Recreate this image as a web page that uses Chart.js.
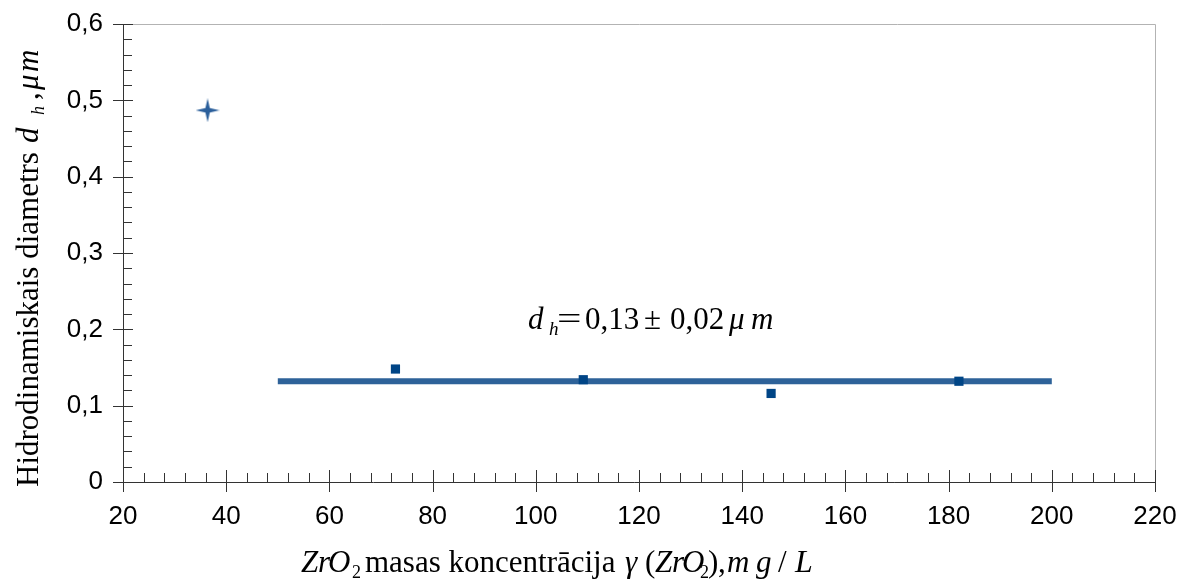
<!DOCTYPE html>
<html><head><meta charset="utf-8">
<script src="https://cdn.jsdelivr.net/npm/chart.js@4/dist/chart.umd.min.js"></script>
<style>html,body{margin:0;padding:0;background:#fff;}canvas{display:block;}</style>
</head><body>
<canvas id="c" width="1179" height="582"></canvas>
<script>
// Data
const firstX = [36.4];
const firstY = [0.487];
const seriesX = [72.8, 109.2, 145.6, 182.0];
const seriesY = [0.148, 0.134, 0.116, 0.132];
const meanLineX = [50, 200];
const meanLineY = [0.132, 0.132];
const xTicks = [20, 40, 60, 80, 100, 120, 140, 160, 180, 200, 220];
const yTicks = [0, 0.1, 0.2, 0.3, 0.4, 0.5, 0.6];

const SERIF = '"Liberation Serif", "DejaVu Serif", serif';
const SANS = '"Liberation Sans", Arial, sans-serif';

// 4-pointed star marker
function makeStar(size, color) {
  const c = document.createElement('canvas');
  c.width = size; c.height = size;
  const g = c.getContext('2d');
  const r = size / 2, ri = size * 0.13;
  g.fillStyle = color;
  g.beginPath();
  for (let i = 0; i < 8; i++) {
    const a = -Math.PI / 2 + i * Math.PI / 4;
    const rr = i % 2 === 0 ? r : ri;
    const px = r + rr * Math.cos(a), py = r + rr * Math.sin(a);
    i === 0 ? g.moveTo(px, py) : g.lineTo(px, py);
  }
  g.closePath(); g.fill();
  return c;
}
const star = makeStar(24, '#2b5f9b');

// segments positioned at offsets ("at") from the origin along the baseline
function drawRich(ctx, segs, x, y) {
  for (const s of segs) {
    ctx.save();
    ctx.font = s.font;
    ctx.translate(x + s.at, y + (s.dy || 0));
    if (s.sx) ctx.scale(s.sx, 1);
    ctx.fillText(s.t, 0, 0);
    ctx.restore();
  }
}
const it = (px) => 'italic ' + px + 'px ' + SERIF;
const up = (px) => px + 'px ' + SERIF;

const decor = {
  id: 'decor',
  beforeDatasetsDraw(chart) {
    const ctx = chart.ctx, xs = chart.scales.x, ys = chart.scales.y;
    const L = xs.left, R = xs.right, T = ys.top, B = ys.bottom;
    ctx.save();
    ctx.strokeStyle = '#b3b3b3'; ctx.lineWidth = 1;
    ctx.beginPath();
    ctx.moveTo(L, T + 0.5); ctx.lineTo(R + 0.5, T + 0.5); ctx.lineTo(R + 0.5, B);
    ctx.stroke();
    ctx.strokeStyle = '#333'; ctx.lineWidth = 1;
    ctx.beginPath();
    ctx.moveTo(L + 0.5, T); ctx.lineTo(L + 0.5, B + 10);
    ctx.moveTo(L - 10, B + 0.5); ctx.lineTo(R + 0.5, B + 0.5);
    for (let v = 20; v <= 220; v += 4) {
      const p = Math.round(xs.getPixelForValue(v)) + 0.5;
      if (v % 20 === 0) { ctx.moveTo(p, B - 12); ctx.lineTo(p, B + 10); }
      else { ctx.moveTo(p, B - 9); ctx.lineTo(p, B); }
    }
    for (let k = 0; k <= 30; k++) {
      const v = k * 0.02;
      const p = Math.round(ys.getPixelForValue(v)) + 0.5;
      if (k % 5 === 0) { ctx.moveTo(L - 10, p); ctx.lineTo(L + 10, p); }
      else { ctx.moveTo(L, p); ctx.lineTo(L + 9, p); }
    }
    ctx.stroke();
    ctx.restore();
  },
  afterDraw(chart) {
    const ctx = chart.ctx;
    ctx.save();
    ctx.fillStyle = '#000';
    ctx.textBaseline = 'alphabetic';
    ctx.textAlign = 'left';
    // annotation
    drawRich(ctx, [
      {t: 'd', font: it(31), at: 0},
      {t: 'h', font: it(19), at: 21, dy: 6},
      {t: '=', font: up(31), at: 29, sx: 1.4},
      {t: '0,13', font: up(31), at: 57},
      {t: '±', font: up(31), at: 116},
      {t: '0,02', font: up(31), at: 142},
      {t: 'μ', font: it(31), at: 201},
      {t: 'm', font: it(31), at: 223}
    ], 528, 329);
    // x title
    drawRich(ctx, [
      {t: 'Z', font: it(31), at: 0},
      {t: 'r', font: it(31), at: 17},
      {t: 'O', font: it(31), at: 27},
      {t: '2', font: up(18), at: 51, dy: 6},
      {t: 'masas koncentrācija', font: up(31), at: 64},
      {t: 'γ', font: it(31), at: 324},
      {t: '(', font: up(31), at: 344},
      {t: 'Z', font: it(31), at: 354},
      {t: 'r', font: it(31), at: 371},
      {t: 'O', font: it(31), at: 381},
      {t: '2', font: up(18), at: 399, dy: 6},
      {t: ')', font: up(31), at: 407},
      {t: ',', font: up(31), at: 417},
      {t: 'm', font: it(31), at: 426},
      {t: 'g', font: it(31), at: 455},
      {t: '/', font: up(31), at: 477},
      {t: 'L', font: it(32), at: 494}
    ], 301, 572);
    // y title
    ctx.translate(38, 487);
    ctx.rotate(-Math.PI / 2);
    drawRich(ctx, [
      {t: 'Hidrodinamiskais diametrs', font: up(31), at: 0},
      {t: 'd', font: it(31), at: 344},
      {t: 'h', font: it(18), at: 372, dy: 6},
      {t: ',', font: up(31), at: 387},
      {t: 'μ', font: it(31), at: 397},
      {t: 'm', font: it(31), at: 415}
    ], 0, 0);
    ctx.restore();
  }
};

const toPts = (xa, ya) => xa.map((x, i) => ({x: x, y: ya[i]}));

new Chart(document.getElementById('c'), {
  type: 'scatter',
  data: {
    datasets: [
      {
        type: 'line', label: 'mean', data: toPts(meanLineX, meanLineY),
        borderColor: '#2e6299', borderWidth: 6, pointRadius: 0, fill: false, order: 3
      },
      {
        label: 'first', data: toPts(firstX, firstY),
        pointStyle: star, pointRadius: 12, order: 1
      },
      {
        label: 'series', data: toPts(seriesX, seriesY),
        pointStyle: 'rect', pointRadius: 6.5, backgroundColor: '#004586',
        borderColor: '#004586', borderWidth: 0, order: 2
      }
    ]
  },
  options: {
    responsive: false, animation: false,
    layout: {padding: {top: 24, right: 24, left: 0, bottom: 0}},
    plugins: {legend: {display: false}, tooltip: {enabled: false}},
    scales: {
      x: {
        type: 'linear', min: 20, max: 220,
        afterFit: (s) => { s.height = 100; s.paddingLeft = 0; s.paddingRight = 0; },
        afterBuildTicks: (s) => { s.ticks = xTicks.map(v => ({value: v})); },
        grid: {display: false, drawTicks: false},
        border: {display: false},
        ticks: {color: '#000', font: {family: SANS, size: 26}, padding: 19, maxRotation: 0,
                callback: (v) => String(v)}
      },
      y: {
        type: 'linear', min: 0, max: 0.6,
        afterFit: (s) => { s.width = 123; s.paddingTop = 0; s.paddingBottom = 0; },
        afterBuildTicks: (s) => { s.ticks = yTicks.map(v => ({value: v})); },
        grid: {display: false, drawTicks: false},
        border: {display: false},
        ticks: {color: '#000', font: {family: SANS, size: 26}, padding: 20,
                callback: (v) => (v === 0 ? '0' : v.toFixed(1).replace('.', ','))}
      }
    }
  },
  plugins: [decor]
});
</script>
</body></html>
